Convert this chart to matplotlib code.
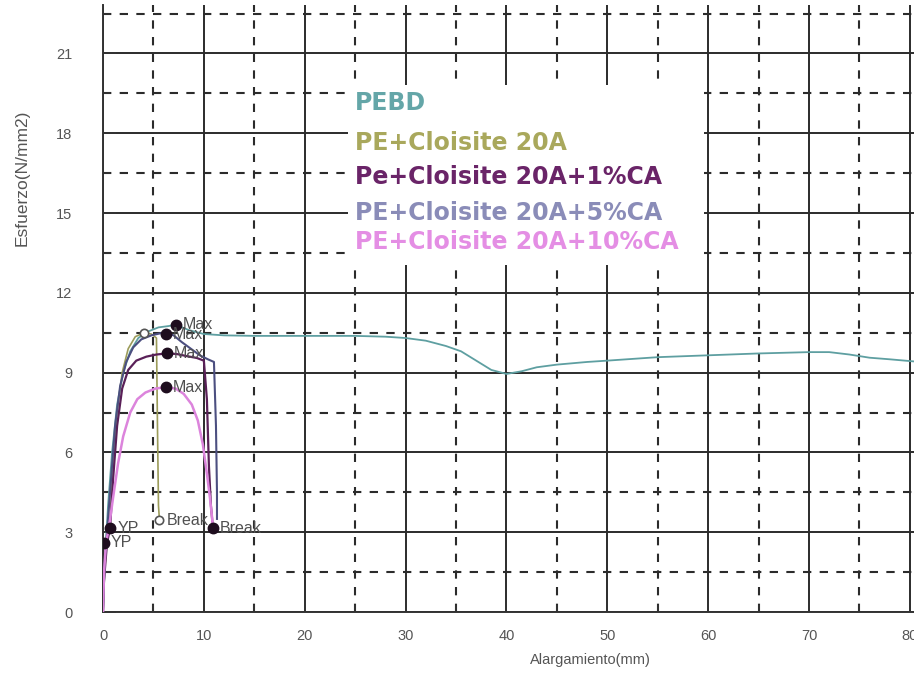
import matplotlib
matplotlib.use("Agg")
import matplotlib.pyplot as plt
from matplotlib.patches import Rectangle
from matplotlib.ticker import MultipleLocator

# curves (elongation mm, stress N/mm2)
pebd_x = [0, 0.2, 0.5, 0.9, 1.4, 2.0, 2.7, 3.5, 4.5, 5.5, 6.5, 7.2, 8.5, 10, 12, 15, 20, 25,
          28, 30, 32, 34, 35.5, 37, 38.5, 40, 41.5, 43, 45, 48, 50, 55, 60, 65, 70, 72, 74,
          76, 78, 81]
pebd_y = [0, 2.0, 4.0, 6.0, 7.8, 9.0, 9.8, 10.3, 10.55, 10.7, 10.75, 10.8, 10.6, 10.45, 10.4,
          10.38, 10.38, 10.38, 10.35, 10.3, 10.2, 10.0, 9.8, 9.45, 9.1, 8.95, 9.05, 9.2, 9.3,
          9.4, 9.45, 9.58, 9.65, 9.72, 9.77, 9.77, 9.68, 9.56, 9.5, 9.4]

c20a_x = [0, 0.15, 0.4, 0.7, 1.0, 1.4, 1.9, 2.5, 3.2, 4.1, 4.8, 5.3, 5.4, 5.5, 5.6]
c20a_y = [0, 1.5, 3.0, 3.6, 5.5, 7.5, 9.0, 9.9, 10.35, 10.5, 10.45, 10.3, 7.0, 4.0, 3.45]

ca1_x = [0, 0.1, 0.4, 0.7, 1.0, 1.4, 1.9, 2.5, 3.3, 4.3, 5.3, 6.3, 7.3, 8.3, 9.3, 10.0, 10.3,
         10.5, 10.7, 10.9]
ca1_y = [0, 1.2, 2.6, 3.15, 5.0, 7.0, 8.4, 9.1, 9.45, 9.6, 9.68, 9.72, 9.7, 9.62, 9.55, 9.45,
         8.0, 5.5, 4.0, 3.15]

ca5_x = [0, 0.15, 0.4, 0.8, 1.2, 1.7, 2.3, 3.0, 3.8, 4.8, 5.6, 6.2, 7.0, 7.8, 8.7, 9.6, 10.4,
         11.0, 11.2, 11.3, 11.3]
ca5_y = [0, 1.8, 3.0, 5.0, 7.0, 8.5, 9.4, 9.95, 10.25, 10.4, 10.47, 10.5, 10.4, 10.15, 9.9,
         9.65, 9.5, 9.4, 7.0, 4.5, 3.5]

ca10_x = [0, 0.1, 0.3, 0.6, 1.0, 1.5, 2.0, 2.7, 3.4, 4.2, 5.2, 6.2, 7.2, 8.0, 8.8, 9.4, 9.9,
          10.3, 10.6, 10.8, 10.9]
ca10_y = [0, 1.5, 2.6, 3.2, 4.3, 5.6, 6.6, 7.5, 8.0, 8.25, 8.4, 8.45, 8.4, 8.2, 7.8, 7.2, 6.3,
          5.2, 4.3, 3.6, 3.15]

# marked points: x, y, text, filled
mark_x = [7.2, 6.2, 6.3, 6.2, 4.1, 5.6, 10.9, 0.7, 0.05]
mark_y = [10.8, 10.45, 9.72, 8.45, 10.5, 3.45, 3.15, 3.15, 2.6]
mark_txt = ["Max", "Max", "Max", "Max", "", "Break", "Break", "YP", "YP"]
mark_fill = [True, True, True, True, False, False, True, True, True]

labels = ["PEBD", "PE+Cloisite 20A", "Pe+Cloisite 20A+1%CA",
          "PE+Cloisite 20A+5%CA", "PE+Cloisite 20A+10%CA"]
colors = ["#64a6a8", "#a9a85c", "#6a2468", "#8a8cb8", "#e48ee4"]
line_colors = ["#5e9fa1", "#9c9c5a", "#5a2058", "#4c4f80", "#dc84dc"]

fig = plt.figure(figsize=(9.14, 6.82), dpi=100)
W, H = 914, 682
ax = fig.add_axes([103 / W, 70 / H, 817 / W, 607 / H])

ax.set_xlim(0, 81)
ax.set_ylim(0, 607 / 26.6)
ax.xaxis.set_major_locator(MultipleLocator(10))
ax.xaxis.set_minor_locator(MultipleLocator(5))
ax.yaxis.set_major_locator(MultipleLocator(3))
ax.yaxis.set_minor_locator(MultipleLocator(1.5))
ax.grid(which="major", color="#2b2b2b", lw=1.4, ls="-")
ax.grid(which="minor", color="#2b2b2b", lw=1.5, ls=(0, (4, 4)))
ax.set_axisbelow(True)
for s in ["top", "right"]:
    ax.spines[s].set_visible(False)
for s in ["left", "bottom"]:
    ax.spines[s].set_color("#333333")
    ax.spines[s].set_linewidth(1.4)
ax.tick_params(which="both", direction="in", colors="#333333", labelcolor="#555555",
               labelsize=10.5, width=1.2)
ax.tick_params(which="major", length=9)
ax.tick_params(which="minor", length=5)
ax.tick_params(axis="y", pad=22)
ax.tick_params(axis="x", pad=12)
for t in ax.get_xticklabels() + ax.get_yticklabels():
    t.set_family("Liberation Sans")

ax.set_xlabel("Alargamiento(mm)", fontsize=10.5, color="#555555", family="Liberation Sans")
ax.xaxis.set_label_coords((590 - 103) / 817, -0.068)
ax.set_ylabel("Esfuerzo(N/mm2)", fontsize=12.5, color="#555555", family="Liberation Sans")
ax.yaxis.set_label_coords((30 - 103) / 817, (612 - 178) / 607)

curves = [(pebd_x, pebd_y), (c20a_x, c20a_y), (ca1_x, ca1_y), (ca5_x, ca5_y), (ca10_x, ca10_y)]
widths = [1.3, 1.2, 1.6, 1.5, 1.8]
for (xs, ys), c, lw in zip(curves, line_colors, widths):
    ax.plot(xs, ys, color=c, lw=lw, zorder=3)

for x, y, txt, filled in zip(mark_x, mark_y, mark_txt, mark_fill):
    if filled:
        ax.plot(x, y, "o", ms=7.5, color="#1e0d1e", zorder=5)
    else:
        ax.plot(x, y, "o", ms=6, mfc="white", mec="#555555", mew=1.2, zorder=5)
    if txt:
        ax.text(x + 0.7, y, txt, fontsize=11.5, color="#505050", va="center", zorder=6,
                family="Liberation Sans")

# legend: plain coloured text on a white block
ax.add_patch(Rectangle((0.300, 0.572), 0.436, 0.296, transform=ax.transAxes,
                       facecolor="white", edgecolor="none", zorder=7))
leg_y = [0.8386, 0.7727, 0.7166, 0.6573, 0.6096]
for lab, c, yy in zip(labels, colors, leg_y):
    ax.text(0.308, yy, lab, transform=ax.transAxes, fontsize=17, fontweight="bold",
            color=c, va="center", ha="left", zorder=8)

fig.savefig("out.png", dpi=100)
